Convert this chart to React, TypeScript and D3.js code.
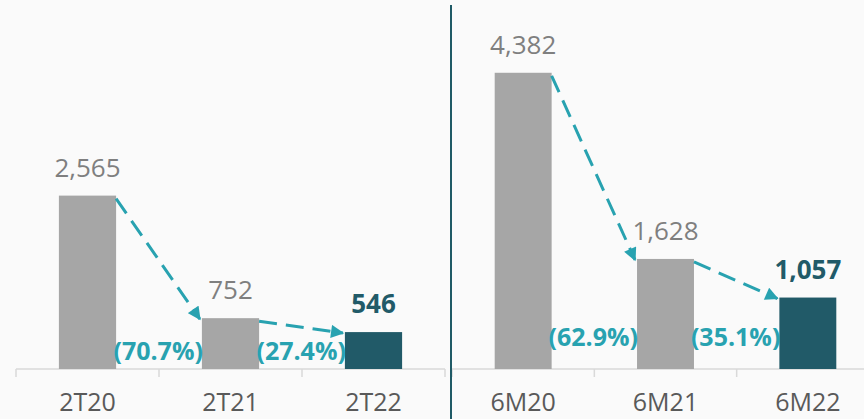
import React from 'react'
import * as d3 from 'd3'

const W = 864
const H = 419
const BASE = 369

const quarterCats = ['2T20', '2T21', '2T22']
const quarterVals = [2565, 752, 546]
const quarterChg = ['(70.7%)', '(27.4%)']

const halfCats = ['6M20', '6M21', '6M22']
const halfVals = [4382, 1628, 1057]
const halfChg = ['(62.9%)', '(35.1%)']

const GRAY = '#a6a6a6'
const DARK = '#215a68'
const TEAL = '#28a2b0'
const FONT = '"Open Sans", "Liberation Sans", sans-serif'

const y = d3.scaleLinear().domain([0, 5000]).range([BASE, BASE - 338])

const fmt = d3.format(',')

const Panel = ({ cats, vals, chg, x0, x1, chgY, id }) => {
  const x = d3.scaleBand().domain(cats).range([x0, x1]).paddingInner(0.6).paddingOuter(0.3)
  const bw = x.bandwidth()
  const step = x.step()
  const ticks = d3.range(cats.length + 1).map(i => x0 + i * step)

  return (
    <g>
      {/* axis */}
      <line x1={x0} x2={x1} y1={BASE} y2={BASE} stroke="#d9d9d9" strokeWidth={1.5} />
      {ticks.map((t, i) => (
        <line key={i} x1={t} x2={t} y1={BASE} y2={BASE + 8} stroke="#d9d9d9" strokeWidth={1.5} />
      ))}
      {cats.map(c => (
        <text key={c} x={x(c) + bw / 2} y={411} textAnchor="middle" fontSize={25} fill="#595959" fontFamily={FONT}>
          {c}
        </text>
      ))}

      {/* bars */}
      {cats.map((c, i) => {
        const last = i === cats.length - 1
        return (
          <g key={c}>
            <rect x={x(c)} y={y(vals[i])} width={bw} height={BASE - y(vals[i])} fill={last ? DARK : GRAY} />
            <text
              x={x(c) + bw / 2}
              y={y(vals[i]) - 19}
              textAnchor="middle"
              fontSize={26}
              fontWeight={last ? 700 : 400}
              fill={last ? DARK : '#7f7f7f'}
              fontFamily={FONT}
            >
              {fmt(vals[i])}
            </text>
          </g>
        )
      })}

      {/* arrows + change labels */}
      {chg.map((t, i) => {
        const a = cats[i]
        const b = cats[i + 1]
        const sx = x(a) + bw
        const sy = y(vals[i]) + 3
        const ex = x(b) - 2
        const ey = y(vals[i + 1]) + 1
        return (
          <g key={t}>
            <line
              x1={sx}
              y1={sy}
              x2={ex}
              y2={ey}
              stroke={TEAL}
              strokeWidth={3}
              strokeDasharray="18,9"
              markerEnd={`url(#arr-${id})`}
            />
            <text x={x(b) + 1} y={chgY} textAnchor="end" fontSize={25} fontWeight={700} fill={TEAL} fontFamily={FONT}>
              {t}
            </text>
          </g>
        )
      })}
    </g>
  )
}

const App = () => {
  return (
    <svg width={W} height={H} style={{ position: 'absolute', left: 0, top: 0, background: '#fafafa' }}>
      <defs>
        {['l', 'r'].map(k => (
          <marker
            key={k}
            id={`arr-${k}`}
            viewBox="0 0 10 10"
            refX={9}
            refY={5}
            markerWidth={4.8}
            markerHeight={4.4}
            markerUnits="strokeWidth"
            orient="auto"
          >
            <path d="M0,0 L10,5 L0,10 Z" fill={TEAL} />
          </marker>
        ))}
      </defs>
      <rect width={W} height={H} fill="#fafafa" />
      <Panel id="l" cats={quarterCats} vals={quarterVals} chg={quarterChg} x0={16} x1={445} chgY={360} />
      <Panel id="r" cats={halfCats} vals={halfVals} chg={halfChg} x0={452} x1={879} chgY={346} />
      <line x1={451} x2={451} y1={5} y2={H} stroke="#1f5a66" strokeWidth={2} />
    </svg>
  )
}

export default App
